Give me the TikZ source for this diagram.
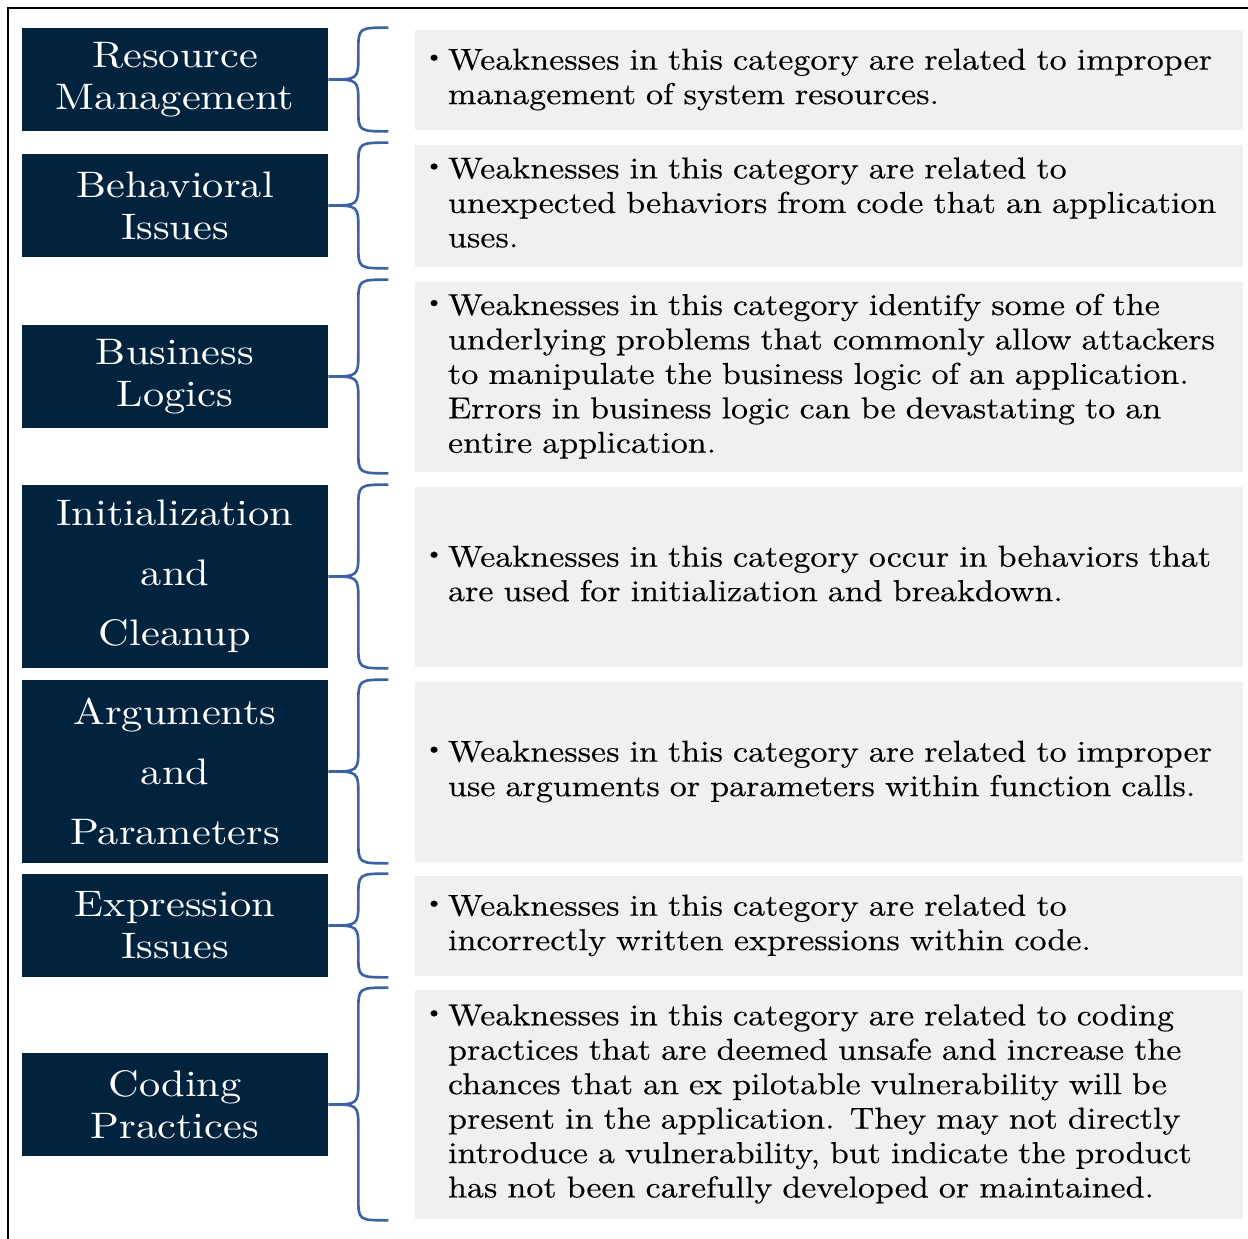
\documentclass[tikz,border=0pt]{standalone}
\usepackage{fontspec}
\setmainfont{lmroman10-regular.otf}[FakeStretch=1.125,FakeBold=0.3]
\newfontfamily\catfont{lmroman10-regular.otf}[FakeStretch=1.15]
\usetikzlibrary{calc}
\definecolor{navy}{RGB}{2,35,61}
\definecolor{panel}{RGB}{240,240,240}
\definecolor{bracecol}{RGB}{60,98,164}
\newcommand{\bul}{\hspace*{-3pt}\raisebox{4pt}{\scalebox{0.7}{\textbullet}}}
\newcommand{\desclines}[1]{\begin{tabular}{@{}p{0.36cm}@{}l@{}}#1\end{tabular}}
\begin{document}
\begin{tikzpicture}  % ------ Categories de faiblesses --------------
      [x=0.02cm,y=-0.02cm,
       cat/.style={fill=navy,text=white,minimum width=6.12cm,inner sep=0pt,align=center,
                   font=\catfont\fontsize{21}{24}\selectfont},
       cattall/.style={cat,font=\catfont\fontsize{21}{34}\selectfont},
       desc/.style={fill=panel,text width=15.96cm,inner xsep=0.3cm,inner ysep=0pt,align=left,
                    font=\fontsize{17.2}{19.6}\selectfont},
       brc/.style={draw=bracecol,line width=1.5pt}]
    \useasboundingbox (0,0) rectangle (1248,1239);
    \draw[line width=0.04cm] (8,1239) -- (8,8) -- (1248,8);

    % categories
    \node[cat,minimum height=2.06cm] (c1) at (175,79.5) {Resource\\Management};
    \node[cat,minimum height=2.06cm] (c2) at (175,205.5) {Behavioral\\Issues};
    \node[cat,minimum height=2.06cm] (c3) at (175,376.5) {Business\\Logics};
    \node[cattall,minimum height=3.66cm] (c4) at (175,576.5) {Initialization\\and\\Cleanup};
    \node[cattall,minimum height=3.66cm] (c5) at (175,771.5) {Arguments\\and\\Parameters};
    \node[cat,minimum height=2.06cm] (c6) at (175,925.5) {Expression\\Issues};
    \node[cat,minimum height=2.06cm] (c7) at (175,1104.5) {Coding\\Practices};

    % descriptions
    \node[desc,minimum height=2cm] (d1) at (829,80) {\desclines{\bul & Weaknesses in this category are related to improper\\
        & management of system resources.}};
    \node[desc,minimum height=2.44cm] (d2) at (829,206) {\desclines{\bul & Weaknesses in this category are related to\\
        & unexpected behaviors from code that an application\\
        & uses.}};
    \node[desc,minimum height=3.8cm] (d3) at (829,377) {\desclines{\bul & Weaknesses in this category identify some of the\\
        & underlying problems that commonly allow attackers\\
        & to manipulate the business logic of an application.\\
        & Errors in business logic can be devastating to an\\
        & entire application.}};
    \node[desc,minimum height=3.6cm] (d4) at (829,577) {\desclines{\bul & Weaknesses in this category occur in behaviors that\\
        & are used for initialization and breakdown.}};
    \node[desc,minimum height=3.6cm] (d5) at (829,772) {\desclines{\bul & Weaknesses in this category are related to improper\\
        & use arguments or parameters within function calls.}};
    \node[desc,minimum height=2cm] (d6) at (829,926) {\desclines{\bul & Weaknesses in this category are related to\\
        & incorrectly written expressions within code.}};
    \node[desc,minimum height=4.58cm] (d7) at (829,1104.5) {\desclines{\bul & Weaknesses in this category are related to coding\\
        & practices that are deemed unsafe and increase the\\
        & chances that an ex pilotable vulnerability will be\\
        & present in the application. They may not directly\\
        & introduce a vulnerability, but indicate the product\\
        & has not been carefully developed or maintained.}};

    % accolades
    \foreach \i in {1,...,7}{
      \coordinate (top) at (c\i.east |- d\i.north);
      \coordinate (bot) at (c\i.east |- d\i.south);
      \draw[brc] ($(top)+(60,-2)$) .. controls ($(top)+(30,-2)$) .. ($(top)+(30,22)$)
          -- ($(c\i.east)+(30,-24)$) .. controls ($(c\i.east)+(30,0)$) .. (c\i.east)
          .. controls ($(c\i.east)+(30,0)$) .. ($(c\i.east)+(30,24)$)
          -- ($(bot)+(30,-22)$) .. controls ($(bot)+(30,1)$) .. ($(bot)+(60,1)$);
    }
\end{tikzpicture}
\end{document}
